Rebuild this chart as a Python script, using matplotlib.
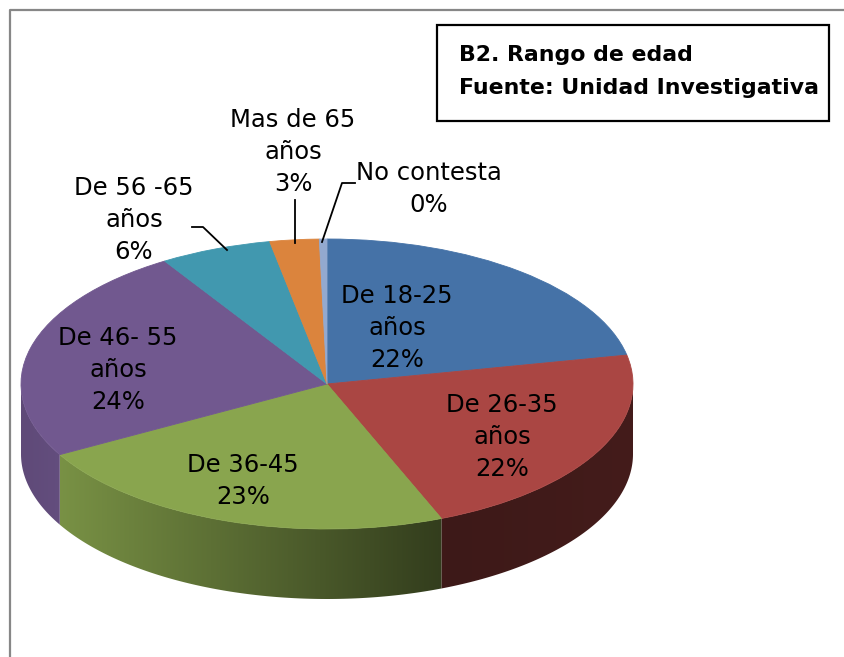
import matplotlib.pyplot as plt
import matplotlib.patches as mpatches
import matplotlib.colors as mcolors
import numpy as np

categories = ["De 18-25\naños", "De 26-35\naños", "De 36-45", "De 46- 55\naños",
              "De 56 -65\naños", "Mas de 65\naños", "No contesta"]
values = [21.8, 22.1, 23.0, 24.2, 5.9, 2.6, 0.4]
colors = ["#4572A7", "#AA4643", "#89A54E", "#71588F", "#4198AF", "#DB843D", "#93A9CF"]
title_lines = ["B2. Rango de edad", "Fuente: Unidad Investigativa"]

W, H = 844, 657
cx_px, cy_px = 327, 384
rx, ry = 306, 145
depth = 70
S = rx / ry

plt.rcParams['font.family'] = ['DejaVu Sans']


def P(px, py):
    return px, (H - py) * S


fig = plt.figure(figsize=(8.44, 6.57), dpi=100)
ax = fig.add_axes([0, 0, 1, 1])

center = P(cx_px, cy_px)
wedges, _ = ax.pie(values, colors=colors, startangle=90, counterclock=False,
                   radius=rx, center=center, frame=True,
                   wedgeprops=dict(linewidth=0.6))
for w, c in zip(wedges, colors):
    w.set_edgecolor(c)
    w.set_zorder(5)

# side of the 3d pie, darker to the right
xs = np.arange(cx_px - rx, cx_px + rx + 1)
fac = np.interp(xs, [20, 60, 450, 640], [0.84, 0.88, 0.36, 0.40])
for w, c in zip(wedges, colors):
    t1, t2 = w.theta1, w.theta2
    for k in (-360, 0, 360):
        a = max(t1, -180 + k)
        b = min(t2, 0 + k)
        if b <= a:
            continue
        th = np.radians(np.linspace(a, b, 120))
        px = center[0] + rx * np.cos(th)
        py = center[1] + rx * np.sin(th)
        verts = np.vstack([np.column_stack([px, py]),
                           np.column_stack([px[::-1], py[::-1] - depth * S])])
        poly = mpatches.Polygon(verts, closed=True, fill=False, lw=0)
        ax.add_patch(poly)
        img = np.array(mcolors.to_rgb(c))[None, :] * fac[:, None]
        im = ax.imshow(img[None, :, :], extent=[xs[0], xs[-1], center[1] - rx - depth * S, center[1] + rx],
                       aspect='auto', interpolation='bilinear', zorder=2)
        im.set_clip_path(poly)

# data labels
label_pos = [(397, 328), (502, 437), (243, 481), (118, 370), (134, 220), (293, 152), (429, 189)]
for cat, v, (lx, ly) in zip(categories, values, label_pos):
    ax.text(*P(lx, ly), f"{cat}\n{round(v)}%", ha='center', va='center',
            fontsize=17.5, linespacing=1.4, zorder=10)

# leader lines
leaders = [[(192, 227), (203, 227), (227, 250)],
           [(295, 200), (295, 243)],
           [(355, 183), (342, 183), (322, 242)]]
for pts in leaders:
    lx, ly = zip(*[P(x, y) for x, y in pts])
    ax.plot(lx, ly, color='black', lw=1.3, zorder=10)

# title box
x0, y0 = P(437, 121)
x1, y1 = P(829, 25)
ax.add_patch(mpatches.Rectangle((x0, y0), x1 - x0, y1 - y0, fill=False,
                                edgecolor='black', lw=1.6, zorder=10))
for t, ty in zip(title_lines, [55, 88]):
    ax.text(*P(459, ty), t, ha='left', va='center', fontsize=15.8,
            fontweight='bold', zorder=10)

# chart border
ax.plot(*zip(P(10, H), P(10, 10), P(W, 10)), color='#878787', lw=1.6, zorder=10)

ax.set_xlim(0, W)
ax.set_ylim(0, H * S)
ax.set_aspect('auto')
ax.axis('off')

fig.savefig('out.png', dpi=100)
